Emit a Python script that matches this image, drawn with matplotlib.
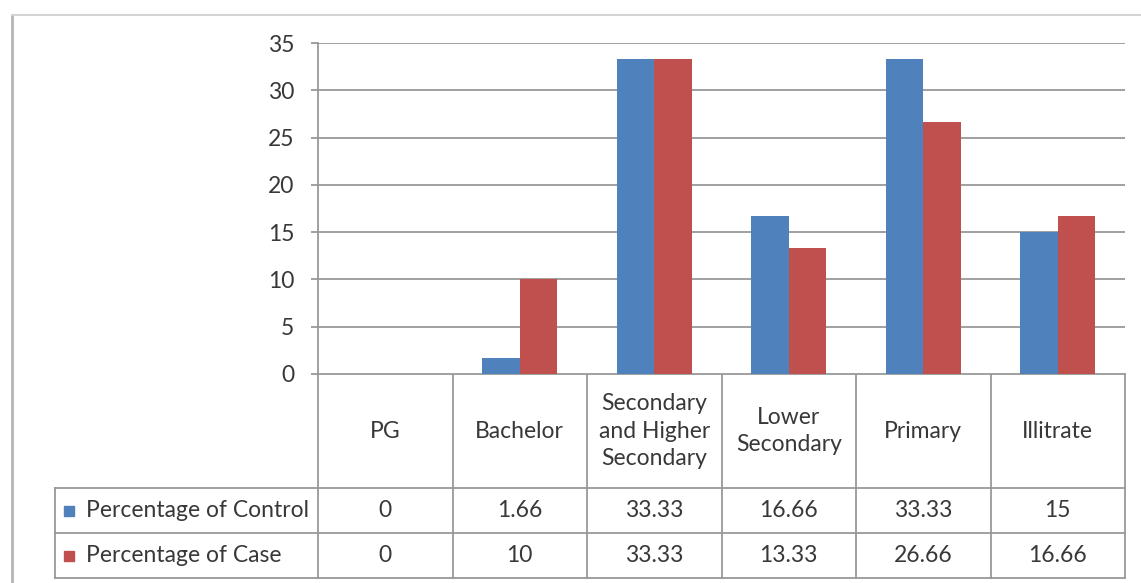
import matplotlib.pyplot as plt
from matplotlib.lines import Line2D
from matplotlib.patches import Rectangle

categories = ["PG", "Bachelor", "Secondary\nand Higher\nSecondary",
              "Lower\nSecondary", "Primary", "Illitrate"]
control = [0, 1.66, 33.33, 16.66, 33.33, 15]
case = [0, 10, 33.33, 13.33, 26.66, 16.66]
control_text = ["0", "1.66", "33.33", "16.66", "33.33", "15"]
case_text = ["0", "10", "33.33", "13.33", "26.66", "16.66"]
series_names = ["Percentage of Control", "Percentage of Case"]
yticks = [0, 5, 10, 15, 20, 25, 30, 35]

BLUE = "#4f81bd"
RED = "#c0504d"
TEXT = "#383838"
GRID = "#989898"
FS = 16.5

W, H = 1141, 583
plt.rcParams["font.family"] = ["Lato", "DejaVu Sans"]

fig = plt.figure(figsize=(W / 100, H / 100), dpi=100)
fig.patch.set_facecolor("white")


def fig_box(x0, y0, x1, y1):
    # pixel box (top-left origin) -> figure fraction rect
    return [x0 / W, 1 - y1 / H, (x1 - x0) / W, (y1 - y0) / H]


# chart area frame
fig.add_artist(Line2D([12 / W, 12 / W], [0, 1 - 15 / H], color="#b5b5b5",
                      lw=2, transform=fig.transFigure))
fig.add_artist(Line2D([12 / W, 1], [1 - 15 / H, 1 - 15 / H], color="#d4d4d4",
                      lw=1.5, transform=fig.transFigure))

PX0, PX1 = 318, 1125
Y0, Y35 = 374, 43
ax = fig.add_axes(fig_box(PX0, Y35, PX1, Y0))
n = len(categories)
x = list(range(n))
w = 0.28
ax.bar([i - w / 2 for i in x], control, width=w, color=BLUE, zorder=3)
ax.bar([i + w / 2 for i in x], case, width=w, color=RED, zorder=3)
ax.set_xlim(-0.5, n - 0.5)
ax.set_ylim(0, 35)
ax.set_yticks(yticks)
ax.set_xticks([])
ax.yaxis.grid(True, color=GRID, lw=1.3, zorder=0)
ax.tick_params(axis="y", length=5, width=1.3, color=GRID, labelsize=FS,
               labelcolor=TEXT, pad=12)
for side in ["top", "right", "bottom"]:
    ax.spines[side].set_visible(False)
ax.spines["left"].set_color(GRID)
ax.spines["left"].set_linewidth(1.3)

# data table under the plot
TX0 = 55
HEAD_B, ROW1_B, ROW2_B = 488, 533, 578
col_w = (PX1 - PX0) / n
tab = fig.add_axes([0, 0, 1, 1], zorder=-1)
tab.set_xlim(0, W)
tab.set_ylim(H, 0)
tab.axis("off")

line_kw = dict(color=GRID, lw=1.3)
tab.plot([PX0, PX1], [Y0, Y0], **line_kw)
for y in [HEAD_B, ROW1_B, ROW2_B]:
    tab.plot([TX0, PX1], [y, y], **line_kw)
for k in range(n + 1):
    xc = PX0 + k * col_w
    tab.plot([xc, xc], [Y0, ROW2_B], **line_kw)
tab.plot([TX0, TX0], [HEAD_B, ROW2_B], **line_kw)

for k, label in enumerate(categories):
    xc = PX0 + (k + 0.5) * col_w
    tab.text(xc, (Y0 + HEAD_B) / 2, label, ha="center", va="center",
             fontsize=FS, color=TEXT, linespacing=1.38, multialignment="center")
    tab.text(xc, (HEAD_B + ROW1_B) / 2, control_text[k], ha="center",
             va="center", fontsize=FS, color=TEXT)
    tab.text(xc, (ROW1_B + ROW2_B) / 2, case_text[k], ha="center",
             va="center", fontsize=FS, color=TEXT)

for (y0, y1), name, colr in zip([(HEAD_B, ROW1_B), (ROW1_B, ROW2_B)],
                                series_names, [BLUE, RED]):
    ym = (y0 + y1) / 2
    tab.add_patch(Rectangle((64, ym - 5), 10, 10, color=colr))
    tab.text(86, ym, name, ha="left", va="center", fontsize=FS, color=TEXT)

fig.savefig("out.png", dpi=100)
